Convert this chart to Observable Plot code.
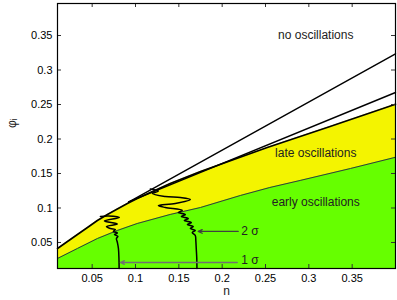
<!DOCTYPE html>
<html>
<head>
<meta charset="utf-8">
<script src="https://cdn.jsdelivr.net/npm/d3@7"></script>
<script src="https://cdn.jsdelivr.net/npm/@observablehq/plot@0.6"></script>
<style>
  html, body { margin: 0; padding: 0; background: white; }
</style>
</head>
<body>
<script>
// ---- Data ----
const xTicks = [0.05, 0.1, 0.15, 0.2, 0.25, 0.3, 0.35];
const xTickLabels = ["0.05", "0.1", "0.15", "0.2", "0.25", "0.3", "0.35"];
const yTicks = [0.05, 0.1, 0.15, 0.2, 0.25, 0.3, 0.35];
const yTickLabels = ["0.05", "0.1", "0.15", "0.2", "0.25", "0.3", "0.35"];

// upper edge of "early oscillations" (green) region
const greenN   = [0.010, 0.033, 0.056, 0.079, 0.102, 0.140, 0.175, 0.221, 0.255, 0.290, 0.348, 0.400];
const greenPhi = [0.0268, 0.0413, 0.0557, 0.0674, 0.0775, 0.0906, 0.1007, 0.1181, 0.1297, 0.1399, 0.1572, 0.1735];

// upper edge of "late oscillations" (yellow) region
const yellowN   = [0.010, 0.0215, 0.033, 0.0446, 0.056, 0.0676, 0.079, 0.0906, 0.102, 0.1171, 0.140, 0.175, 0.252, 0.3245, 0.400];
const yellowPhi = [0.0413, 0.0514, 0.0616, 0.0717, 0.0819, 0.0906, 0.0986, 0.1065, 0.1138, 0.1225, 0.1355, 0.1529, 0.1877, 0.2181, 0.2505];

// two straight bounds
const line1N = [0.092, 0.400];
const line1Phi = [0.1085, 0.3235];
const line2N = [0.092, 0.400];
const line2Phi = [0.1090, 0.2674];

// 1 sigma contour
const c1N   = [0.0811, 0.0809, 0.0803, 0.0791, 0.0780, 0.0797, 0.0757, 0.0791, 0.0745, 0.0768, 0.0711, 0.0665, 0.0791, 0.0641, 0.0814, 0.0688, 0.0595];
const c1Phi = [0.0123, 0.0268, 0.0413, 0.0500, 0.0558, 0.0587, 0.0616, 0.0638, 0.0659, 0.0688, 0.0703, 0.0732, 0.0768, 0.0812, 0.0862, 0.0884, 0.0877];

// 2 sigma contour
const c2N   = [0.1709, 0.1707, 0.1701, 0.1696, 0.1690, 0.1655, 0.1690, 0.1632, 0.1667, 0.1598, 0.1644, 0.1563, 0.1609, 0.1529, 0.1575, 0.1494, 0.1540, 0.1344, 0.1264, 0.1459, 0.1632, 0.1517, 0.1344, 0.1194, 0.1264, 0.1171];
const c2Phi = [0.0123, 0.0268, 0.0413, 0.0529, 0.0601, 0.0645, 0.0674, 0.0703, 0.0732, 0.0761, 0.0790, 0.0819, 0.0848, 0.0877, 0.0906, 0.0935, 0.0964, 0.1007, 0.1036, 0.1065, 0.1123, 0.1152, 0.1167, 0.1210, 0.1246, 0.1275];

// region labels
const regionLabels = ["no oscillations", "late oscillations", "early oscillations"];
const regionN = [0.308, 0.308, 0.308];
const regionPhi = [0.350, 0.1794, 0.108];

// sigma labels and arrows
const sigmaLabels = ["1 σ", "2 σ"];
const sigmaN = [0.222, 0.222];
const sigmaPhi = [0.0239, 0.0664];
const arrowFromN = [0.2174, 0.2185];
const arrowToN = [0.0826, 0.1724];
const arrowPhi = [0.021, 0.066];
const arrowColors = ["#707070", "#404040"];

// ---- tables ----
const green = greenN.map((n, i) => ({n, phi: greenPhi[i]}));
const yellow = yellowN.map((n, i) => ({n, phi: yellowPhi[i]}));
const line1 = line1N.map((n, i) => ({n, phi: line1Phi[i]}));
const line2 = line2N.map((n, i) => ({n, phi: line2Phi[i]}));
const c1 = c1N.map((n, i) => ({n, phi: c1Phi[i]}));
const c2 = c2N.map((n, i) => ({n, phi: c2Phi[i]}));
const regions = regionLabels.map((t, i) => ({t, n: regionN[i], phi: regionPhi[i]}));
const sigmas = sigmaLabels.map((t, i) => ({t, n: sigmaN[i], phi: sigmaPhi[i]}));
const arrows = arrowFromN.map((n1, i) => ({n1, n2: arrowToN[i], phi: arrowPhi[i], c: arrowColors[i]}));

const font = "'Liberation Sans', Arial, Helvetica, sans-serif";

const chart = Plot.plot({
  width: 397,
  height: 300,
  marginLeft: 57,
  marginRight: 2,
  marginTop: 3,
  marginBottom: 32,
  style: {fontFamily: font, fontSize: "11px", background: "white", color: "black"},
  x: {domain: [0.01, 0.4]},
  y: {domain: [0.0123, 0.3964]},
  marks: [
    Plot.areaY(yellow, {x: "n", y: "phi", fill: "#f4f400", clip: true}),
    Plot.areaY(green, {x: "n", y: "phi", fill: "#66ff00", clip: true}),
    Plot.line(green, {x: "n", y: "phi", stroke: "#3a3a3a", strokeWidth: 1}),
    Plot.line(yellow, {x: "n", y: "phi", stroke: "black", strokeWidth: 1.6}),
    Plot.line(line1, {x: "n", y: "phi", stroke: "black", strokeWidth: 1.4}),
    Plot.line(line2, {x: "n", y: "phi", stroke: "black", strokeWidth: 1.4}),
    Plot.line(c1, {x: "n", y: "phi", stroke: "black", strokeWidth: 1.5, curve: "catmull-rom"}),
    Plot.line(c2, {x: "n", y: "phi", stroke: "black", strokeWidth: 1.5, curve: "catmull-rom"}),
    Plot.arrow(arrows, {x1: "n1", x2: "n2", y1: "phi", y2: "phi", stroke: "c", strokeWidth: 1.3, headLength: 5, headAngle: 50}),
    Plot.text(regions, {x: "n", y: "phi", text: "t", fontSize: 12, fill: "#222", textAnchor: "middle"}),
    Plot.text(sigmas, {x: "n", y: "phi", text: "t", fontSize: 12, fill: "#222", textAnchor: "start"}),
    // inward ticks on all four sides
    Plot.tickX(xTicks, {x: d => d, insetTop: 261, stroke: "#333"}),
    Plot.tickX(xTicks, {x: d => d, insetBottom: 261, stroke: "#333"}),
    Plot.tickY(yTicks, {y: d => d, insetRight: 334, stroke: "#333"}),
    Plot.tickY(yTicks, {y: d => d, insetLeft: 334, stroke: "#333"}),
    Plot.axisX(xTicks, {anchor: "bottom", tickSize: 0, tickPadding: 6, tickFormat: (d, i) => xTickLabels[i], label: null, fontSize: 11}),
    Plot.axisY(yTicks, {anchor: "left", tickSize: 0, tickPadding: 5, tickFormat: (d, i) => yTickLabels[i], label: null, fontSize: 11}),
    Plot.text(["n"], {frameAnchor: "bottom", text: d => d, dy: 26, fontSize: 12, fill: "#222"}),
    Plot.text(["φᵢ"], {frameAnchor: "left", text: d => d, dx: -45, dy: -8, rotate: -90, fontSize: 12, fill: "#222"}),
    Plot.frame({stroke: "black", strokeWidth: 1.2})
  ]
});
document.body.appendChild(chart);
</script>
</body>
</html>
